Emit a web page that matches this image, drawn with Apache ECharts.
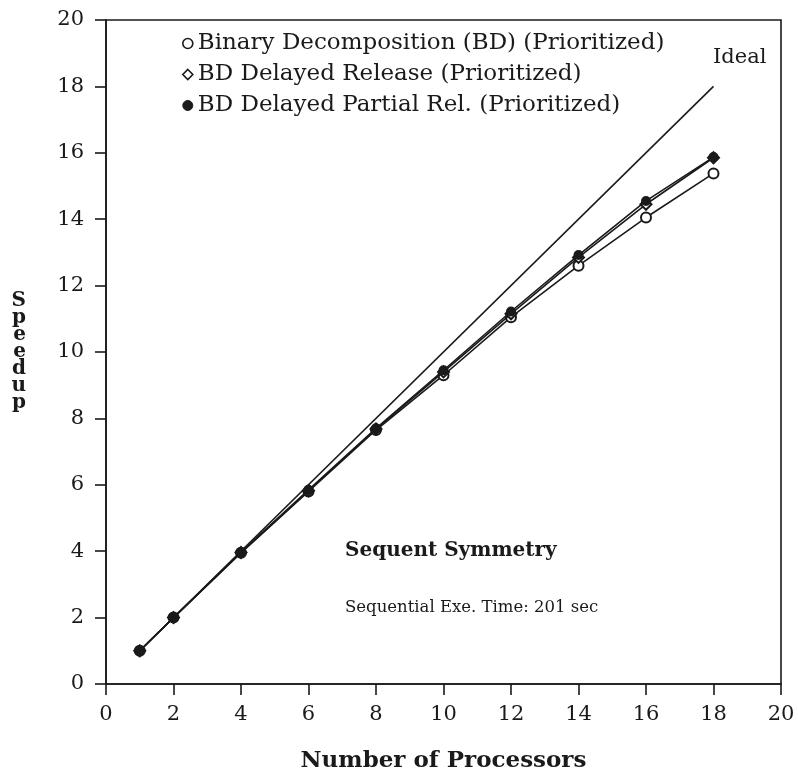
<!DOCTYPE html>
<html>
<head>
<meta charset="utf-8">
<script src="https://cdn.jsdelivr.net/npm/echarts@6/dist/echarts.min.js"></script>
<style>html,body{margin:0;padding:0;background:#fff;}#c{width:798px;height:778px;}</style>
</head>
<body>
<div id="c"></div>
<script>
var processors = [1, 2, 4, 6, 8, 10, 12, 14, 16, 18];
var bdValues = [1.0, 2.0, 3.95, 5.8, 7.65, 9.3, 11.05, 12.6, 14.05, 15.38];
var delayedValues = [1.0, 2.0, 3.96, 5.82, 7.68, 9.4, 11.15, 12.85, 14.45, 15.85];
var partialValues = [1.0, 2.0, 3.97, 5.85, 7.7, 9.45, 11.22, 12.92, 14.55, 15.87];
var idealX = [1, 18];
var idealY = [1, 18];
var seriesNames = ['Binary Decomposition (BD) (Prioritized)', 'BD Delayed Release (Prioritized)', 'BD Delayed Partial Rel. (Prioritized)'];
var xTicks = [0, 2, 4, 6, 8, 10, 12, 14, 16, 18, 20];
var yTicks = [0, 2, 4, 6, 8, 10, 12, 14, 16, 18, 20];

function pairs(xs, ys) { return xs.map(function (x, i) { return [x, ys[i]]; }); }

var FONT = 'DejaVu Serif';
var INK = '#1a1a1a';
var chart = echarts.init(document.getElementById('c'));
chart.setOption({
  backgroundColor: '#fff',
  animation: false,
  grid: { left: 106, right: 17, top: 20, bottom: 94, containLabel: false, outerBoundsMode: 'none',
          show: true, borderColor: INK, borderWidth: 1.6, backgroundColor: 'transparent' },
  xAxis: {
    type: 'value', min: 0, max: 20, interval: 2,
    name: 'Number of Processors', nameLocation: 'middle', nameGap: 66,
    nameTextStyle: { fontFamily: FONT, fontWeight: 'bold', fontSize: 23, color: INK },
    axisLine: { show: true, lineStyle: { color: INK, width: 1.6 } },
    axisTick: { show: true, inside: false, length: 11, lineStyle: { color: INK, width: 1.6 } },
    axisLabel: { fontFamily: FONT, fontSize: 21, color: INK, margin: 20, formatter: function (v) { return xTicks.indexOf(v) >= 0 ? String(v) : ''; } },
    splitLine: { show: false }
  },
  yAxis: {
    type: 'value', min: 0, max: 20, interval: 2,
    name: 'S\np\ne\ne\nd\nu\np', nameLocation: 'middle', nameGap: 80, nameRotate: 0,
    nameTextStyle: { fontFamily: FONT, fontWeight: 'bold', fontSize: 20, color: INK, lineHeight: 17, padding: [0, 0, 30, 0] },
    axisLine: { show: true, lineStyle: { color: INK, width: 1.6 } },
    axisTick: { show: true, inside: false, length: 11, lineStyle: { color: INK, width: 1.6 } },
    axisLabel: { fontFamily: FONT, fontSize: 21, color: INK, margin: 22, formatter: function (v) { return yTicks.indexOf(v) >= 0 ? String(v) : ''; } },
    splitLine: { show: false }
  },
  legend: {
    orient: 'vertical', left: 177, top: 27, itemGap: 8, itemWidth: 10, itemHeight: 10,
    textStyle: { fontFamily: FONT, fontSize: 23, color: INK, padding: [0, 0, 0, 0] },
    data: [
      { name: seriesNames[0], icon: 'circle', itemStyle: { color: '#fff', borderColor: INK, borderWidth: 1.6 } },
      { name: seriesNames[1], icon: 'diamond', itemStyle: { color: '#fff', borderColor: INK, borderWidth: 1.6 } },
      { name: seriesNames[2], icon: 'circle', itemStyle: { color: INK, borderColor: INK, borderWidth: 1 } }
    ]
  },
  graphic: [
    { type: 'text', left: 713, top: 47, style: { text: 'Ideal', fontFamily: FONT, fontSize: 21, fill: INK } },
    { type: 'text', left: 345, top: 541, style: { text: 'Sequent Symmetry', fontFamily: FONT, fontWeight: 'bold', fontSize: 20, fill: INK } },
    { type: 'text', left: 345, top: 599, style: { text: 'Sequential Exe. Time: 201 sec', fontFamily: FONT, fontSize: 16.5, fill: INK } }
  ],
  series: [
    { type: 'line', name: 'Ideal', data: pairs(idealX, idealY), symbol: 'none', lineStyle: { color: INK, width: 1.6 }, z: 1 },
    { type: 'line', name: seriesNames[0], data: pairs(processors, bdValues), symbol: 'emptyCircle', symbolSize: 10,
      lineStyle: { color: INK, width: 1.6 }, itemStyle: { color: INK, borderColor: INK, borderWidth: 1.5 }, z: 3 },
    { type: 'line', name: seriesNames[1], data: pairs(processors, delayedValues), symbol: 'emptyDiamond', symbolSize: 11,
      lineStyle: { color: INK, width: 1.6 }, itemStyle: { color: INK, borderColor: INK, borderWidth: 1.5 }, z: 4 },
    { type: 'line', name: seriesNames[2], data: pairs(processors, partialValues), symbol: 'circle', symbolSize: 10,
      lineStyle: { color: INK, width: 1.6 }, itemStyle: { color: INK }, z: 5 }
  ]
});
</script>
</body>
</html>
